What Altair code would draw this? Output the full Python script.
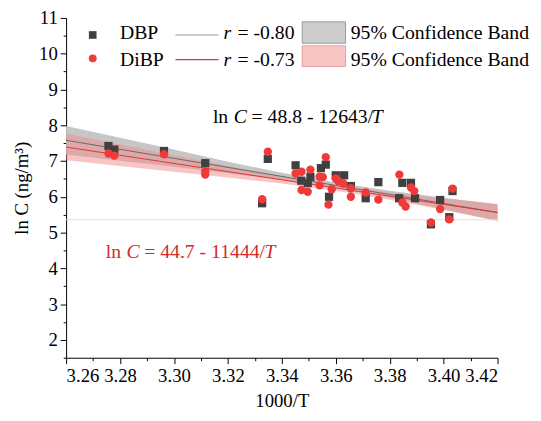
import altair as alt
import pandas as pd

# ---- data ----
dbp_x = [3.2757, 3.2779, 3.2963, 3.3116, 3.3327, 3.3348, 3.3451, 3.3472, 3.3496, 3.3506,
         3.3545, 3.3563, 3.3575, 3.3600, 3.3631, 3.3656, 3.3711, 3.3758, 3.3835, 3.3847,
         3.3879, 3.3894, 3.3953, 3.3987, 3.4021, 3.4033]
dbp_y = [7.42, 7.32, 7.28, 6.94, 5.82, 7.06, 6.88, 6.45, 6.38, 6.56,
         6.80, 6.90, 6.00, 6.60, 6.60, 6.30, 5.96, 6.41, 5.96, 6.39,
         6.39, 5.96, 5.23, 5.91, 5.43, 6.16]

dibp_x = [3.2757, 3.2779, 3.2963, 3.3116, 3.3116, 3.3327, 3.3348, 3.3451, 3.3473, 3.3473,
          3.3496, 3.3506, 3.3540, 3.3552, 3.3540, 3.3563, 3.3573, 3.3585, 3.3600, 3.3609,
          3.3628, 3.3656, 3.3656, 3.3711, 3.3758, 3.3836, 3.3847, 3.3859, 3.3879, 3.3891,
          3.3953, 3.3987, 3.4021, 3.4033]
dibp_y = [7.21, 7.15, 7.19, 6.71, 6.62, 5.93, 7.26, 6.65, 6.70, 6.19,
          6.14, 6.76, 6.56, 6.55, 6.32, 7.11, 5.78, 6.21, 6.51, 6.44,
          6.37, 6.24, 6.00, 6.12, 5.92, 6.62, 5.84, 5.73, 6.26, 6.16,
          5.28, 5.66, 5.37, 6.23]

# fitted lines (end points)
line_x = [3.26, 3.42]
dbp_line = [7.58, 5.56]
dibp_line = [7.39, 5.56]

# confidence bands
band_x = [3.26, 3.28, 3.30, 3.32, 3.34, 3.36, 3.38, 3.40, 3.42]
dbp_up = [7.98, 7.65, 7.32, 6.98, 6.67, 6.40, 6.17, 5.97, 5.79]
dbp_lo = [7.18, 7.01, 6.84, 6.66, 6.47, 6.24, 5.97, 5.65, 5.33]
dibp_up = [7.76, 7.46, 7.16, 6.86, 6.57, 6.33, 6.12, 5.95, 5.80]
dibp_lo = [7.02, 6.86, 6.70, 6.54, 6.37, 6.17, 5.92, 5.63, 5.32]

x_ticks = [3.26, 3.27, 3.28, 3.29, 3.30, 3.31, 3.32, 3.33, 3.34, 3.35, 3.36, 3.37,
           3.38, 3.39, 3.40, 3.41, 3.42]
y_ticks = [1.5, 2, 2.5, 3, 3.5, 4, 4.5, 5, 5.5, 6, 6.5, 7, 7.5, 8, 8.5, 9, 9.5, 10, 10.5, 11]
faint_y = [5.36]

FONT = "Liberation Serif"
W, H = 438, 345

xs = alt.Scale(domain=[3.26, 3.42], nice=False, zero=False)
ys = alt.Scale(domain=[1.5, 11], nice=False, zero=False)

xaxis = alt.Axis(
    title="1000/T", values=x_ticks, grid=False, labelOverlap=False,
    labelExpr="round(datum.value*100) % 2 == 0 ? format(datum.value, '.2f') : ''",
    tickSize={"condition": {"test": "round(datum.value*100) % 2 == 0", "value": 6}, "value": 3},
    labelFont=FONT, labelFontSize=19, labelColor="black", labelPadding=3,
    titleFont=FONT, titleFontSize=19, titleFontWeight="normal", titleColor="black", titlePadding=6,
    domainColor="black", tickColor="black")
yaxis = alt.Axis(
    title="ln C (ng/m³)", values=y_ticks, grid=False, labelOverlap=False,
    labelExpr="round(datum.value*2) % 2 == 0 ? format(datum.value, 'd') : ''",
    tickSize={"condition": {"test": "round(datum.value*2) % 2 == 0", "value": 6}, "value": 3},
    labelFont=FONT, labelFontSize=19, labelColor="black", labelPadding=3,
    titleFont=FONT, titleFontSize=19, titleFontWeight="normal", titleColor="black", titlePadding=7,
    domainColor="black", tickColor="black")

X = alt.X("x:Q", scale=xs, axis=xaxis)
Y = alt.Y("y:Q", scale=ys, axis=yaxis)

dbp = pd.DataFrame({"x": dbp_x, "y": dbp_y})
dibp = pd.DataFrame({"x": dibp_x, "y": dibp_y})
ldbp = pd.DataFrame({"x": line_x, "y": dbp_line})
ldibp = pd.DataFrame({"x": line_x, "y": dibp_line})
bdbp = pd.DataFrame({"x": band_x, "y": dbp_lo, "y2": dbp_up})
bdibp = pd.DataFrame({"x": band_x, "y": dibp_lo, "y2": dibp_up})

band1 = alt.Chart(bdbp).mark_area(color="#c6c6c6", opacity=1).encode(x=X, y=Y, y2="y2:Q")
band2 = alt.Chart(bdibp).mark_area(color="#f28a8a", opacity=0.5).encode(x=X, y=Y, y2="y2:Q")
faint = alt.Chart(pd.DataFrame({"y": faint_y})).mark_rule(color="#f6d6d6", strokeWidth=1).encode(y=Y)
line1 = alt.Chart(ldbp).mark_line(color="#6a6a6a", strokeWidth=1).encode(x=X, y=Y)
line2 = alt.Chart(ldibp).mark_line(color="#e03535", strokeWidth=1).encode(x=X, y=Y)
pts1 = alt.Chart(dbp).mark_point(shape="square", filled=True, size=70, color="#404040", opacity=1).encode(x=X, y=Y)
pts2 = alt.Chart(dibp).mark_point(shape="circle", filled=True, size=72, color="#f03a3a", opacity=1).encode(x=X, y=Y)

one = pd.DataFrame({"a": [0]})


def txt(s, x, y, color="black", italic=False, size=20):
    return alt.Chart(one).mark_text(
        text=s, align="left", baseline="alphabetic", font=FONT, fontSize=size,
        fontStyle="italic" if italic else "normal", color=color
    ).encode(x=alt.value(x), y=alt.value(y))


RED_T = "#d42a2a"
TOP = -1  # shift from the one-pixel-lower plot top
texts = [
    # equations
    txt("ln", 149, 107.7 + TOP), txt("C", 170.3, 107.7 + TOP, italic=True),
    txt("= 48.8 - 12643/", 188.3, 107.7 + TOP), txt("T", 310.2, 107.7 + TOP, italic=True),
    txt("ln", 40.3, 244.3 + TOP, RED_T), txt("C", 61.3, 244.3 + TOP, RED_T, italic=True),
    txt("= 44.7 - 11444/", 79.3, 244.3 + TOP, RED_T), txt("T", 201.3, 244.3 + TOP, RED_T, italic=True),
    # legend
    txt("DBP", 54.7, 22.7 + TOP), txt("DiBP", 54.7, 49.3 + TOP),
    txt("r", 159.7, 22.7 + TOP, italic=True), txt("= -0.80", 174, 22.7 + TOP),
    txt("r", 159.7, 49.3 + TOP, italic=True), txt("= -0.73", 174, 49.3 + TOP),
    txt("95% Confidence Band", 289, 22.7 + TOP), txt("95% Confidence Band", 289, 49.3 + TOP),
]

leg = [
    alt.Chart(one).mark_point(shape="square", filled=True, size=60, color="#404040", opacity=1).encode(
        x=alt.value(27), y=alt.value(18.3 + TOP)),
    alt.Chart(one).mark_point(shape="circle", filled=True, size=64, color="#f03a3a", opacity=1).encode(
        x=alt.value(27), y=alt.value(42 + TOP)),
    alt.Chart(one).mark_rule(color="#999999", strokeWidth=1.2).encode(
        x=alt.value(111), x2=alt.value(154.7), y=alt.value(18.3 + TOP)),
    alt.Chart(one).mark_rule(color="#e03535", strokeWidth=1.2).encode(
        x=alt.value(111), x2=alt.value(154.7), y=alt.value(43.3 + TOP)),
    alt.Chart(one).mark_rect(fill="#cccccc", stroke="#9a9a9a", strokeWidth=1).encode(
        x=alt.value(239.7), x2=alt.value(283.7), y=alt.value(5 + TOP), y2=alt.value(26.7 + TOP)),
    alt.Chart(one).mark_rect(fill="#f9c5c5", stroke="#e2a0a0", strokeWidth=1).encode(
        x=alt.value(239.7), x2=alt.value(283.7), y=alt.value(29.3 + TOP), y2=alt.value(50.3 + TOP)),
]

chart = alt.layer(band1, band2, faint, line1, line2, pts1, pts2, *leg, *texts).properties(
    width=W, height=H,
    autosize=alt.AutoSizeParams(type="none"),
    padding={"left": 59, "top": 7, "right": 36, "bottom": 53},
).configure_view(stroke=None).configure_axis(domainWidth=1, tickWidth=1)

chart.save("out.html", embed_options={"renderer": "svg", "actions": False})
